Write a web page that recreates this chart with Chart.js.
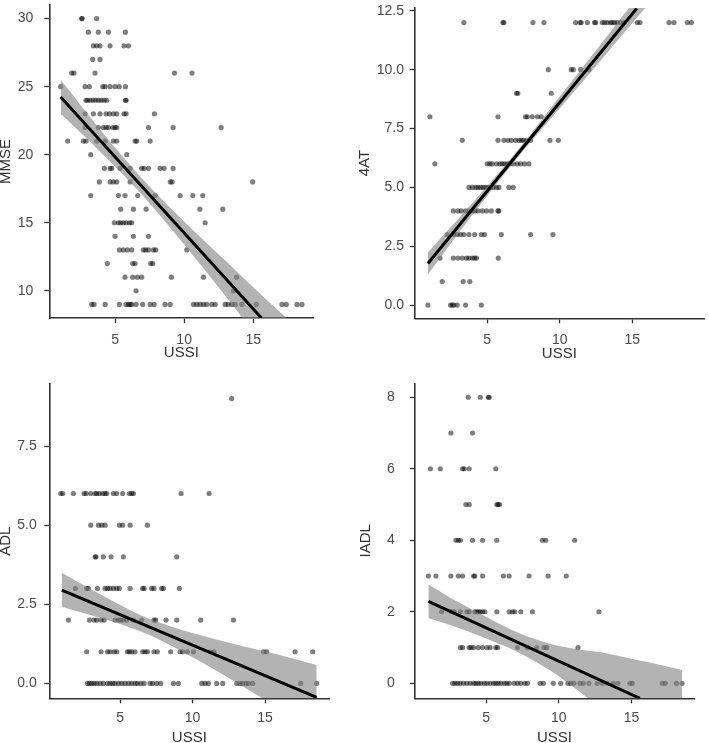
<!DOCTYPE html>
<html>
<head>
<meta charset="utf-8">
<script src="https://cdn.jsdelivr.net/npm/chart.js@4"></script>
<style>
  html, body { margin: 0; padding: 0; background: #fff; width: 709px; height: 743px; overflow: hidden; }
  canvas { position: absolute; left: 0; top: 0; }
</style>
</head>
<body>
<canvas id="mmse" width="709" height="750"></canvas>
<canvas id="fourat" width="709" height="750"></canvas>
<canvas id="adl" width="709" height="750"></canvas>
<canvas id="iadl" width="709" height="750"></canvas>
<script>
// ---- data ----
// every panel: score levels (y) and the USSI values (x) of the dots sitting on that level
var ussiTicks = [5, 10, 15];

var mmseLevels = [30, 29, 28, 27, 26, 25, 24, 23, 22, 21, 20, 19, 18, 17, 16, 15, 14, 13, 12, 11, 10, 9];
var mmseUssi = [
  [2.58, 2.62, 3.67],
  [3.07, 3.79, 4.52, 5.75],
  [3.43, 3.67, 3.91, 4.64, 5.65, 5.97],
  [3.38, 3.91],
  [1.86, 2.03, 3.55, 9.3, 10.57],
  [1.06, 2.83, 3.14, 4.11, 4.28, 4.64, 5.0, 5.31, 5.75],
  [2.9, 3.0, 3.2, 3.4, 3.6, 3.8, 4.0, 4.2, 4.4, 5.75, 5.8],
  [2.83, 3.43, 3.91, 4.35, 4.6, 4.88, 5.12, 5.65, 5.8, 7.85],
  [2.83, 3.79, 4.15, 4.35, 4.52, 4.83, 5.0, 5.12, 7.42, 9.2, 12.68],
  [1.57, 2.71, 2.9, 3.67, 4.28, 4.88, 5.12, 6.45, 6.57, 7.54],
  [3.24, 5.85],
  [4.23, 4.64, 4.76, 5.36, 6.09, 6.93, 7.1, 7.42, 8.26, 8.55, 9.2],
  [3.86, 4.64, 4.88, 5.12, 6.09, 9.0, 9.13, 14.96],
  [3.24, 5.24, 5.72, 6.64, 7.9, 9.71, 10.63, 11.35],
  [5.41, 6.33, 7.25, 11.14, 12.8],
  [4.95, 5.24, 5.41, 5.6, 5.8, 6.04, 6.21, 11.52],
  [5.0, 6.33, 7.42],
  [5.31, 5.6, 5.89, 6.21, 7.05, 7.22, 7.42, 7.78, 7.95, 10.19],
  [4.44, 6.28, 6.45, 7.58, 7.73],
  [5.72, 6.28, 6.62, 6.93, 9.08, 11.4, 13.8],
  [6.52, 13.57],
  [3.31, 3.48, 4.28, 5.31, 5.8, 5.97, 6.09, 6.21, 6.52, 7.0, 7.54, 7.83, 8.62, 8.99,
   10.68, 10.92, 11.16, 11.4, 11.64, 12.0, 12.25, 12.97, 13.19, 13.46, 13.7, 14.18,
   15.22, 17.08, 17.39, 18.17, 18.53]
];
var mmseFitX = [1.06, 15.6];
var mmseFitY = [24.24, 8.0];
var mmseBandX = [1.06, 4, 7, 10, 13, 16, 18.53];
var mmseBandHi = [25.5, 21.75, 18.2, 15.1, 12.2, 9.3, 7.0];
var mmseBandLo = [23.0, 20.15, 17.0, 13.4, 9.6, 5.7, 2.4];
var mmseTicks = [10, 15, 20, 25, 30];

var fouratLevels = [12, 10, 9, 8, 7, 6, 5, 4, 3, 2, 1, 0];
var fouratUssi = [
  [3.39, 6.08, 6.15, 8.15, 8.91, 11.09, 11.39, 11.48, 11.9, 12.4, 12.47, 12.93, 13.09,
   13.28, 13.5, 13.62, 13.78, 13.97, 14.2, 14.43, 15.34, 15.53, 17.53, 17.87, 18.79, 19.07],
  [9.21, 10.79, 10.93, 11.44, 12.01],
  [7.02, 7.11, 9.41],
  [1.05, 5.74, 7.64, 7.76, 8.1, 8.45, 8.72],
  [3.28, 5.74, 6.15, 6.43, 6.66, 6.95, 7.18, 7.34, 7.48, 7.69, 7.99, 9.32, 9.9],
  [1.39, 5.0, 5.18, 5.34, 5.64, 5.87, 6.03, 6.2, 6.38, 6.56, 6.79, 7.07, 7.3, 7.57, 7.87],
  [3.74, 3.97, 4.2, 4.36, 4.54, 4.72, 4.89, 5.05, 5.23, 5.41, 5.64, 5.8, 6.49, 6.79],
  [2.66, 2.98, 3.21, 3.51, 3.74, 3.97, 4.15, 4.36, 4.66, 4.95, 5.28, 5.74, 5.8],
  [2.24, 2.7, 2.93, 3.16, 3.39, 3.74, 4.13, 4.59, 4.82, 5.97, 7.99, 9.53],
  [1.74, 2.66, 2.98, 3.28, 3.57, 3.74, 3.97, 4.13, 4.26, 5.76],
  [1.9, 3.34, 3.8],
  [0.91, 2.47, 2.59, 2.7, 2.93, 3.51, 4.59]
];
var fouratFitX = [0.91, 15.3];
var fouratFitY = [1.77, 12.6];
var fouratBandX = [0.91, 4, 7, 10, 13, 16, 19.07];
var fouratBandHi = [2.24, 4.35, 6.5, 8.86, 11.22, 13.6, 16.0];
var fouratBandLo = [1.3, 3.85, 6.2, 8.36, 10.52, 12.7, 14.8];
var fouratTicks = [0, 2.5, 5, 7.5, 10, 12.5];

var adlLevels = [9, 6, 5, 4, 3, 2, 1, 0];
var adlUssi = [
  [12.7],
  [0.91, 1.05, 1.78, 2.52, 2.66, 2.98, 3.28, 3.39, 3.57, 3.8, 3.97, 4.08, 4.54, 4.77, 5.18,
   5.64, 5.8, 5.92, 9.21, 11.14],
  [2.98, 3.51, 3.74, 3.97, 4.95, 5.18, 5.69, 6.89],
  [3.28, 3.34, 3.85, 4.38, 5.23, 8.91],
  [1.92, 2.7, 2.82, 3.44, 3.97, 4.13, 4.31, 4.54, 4.77, 4.95, 5.69, 6.56, 6.66, 7.18, 7.34,
   7.87, 7.99, 9.09],
  [1.44, 2.89, 3.21, 3.39, 3.69, 3.9, 4.66, 4.89, 5.05, 5.23, 5.46, 5.92, 6.49, 7.34, 7.46,
   8.17, 8.91, 10.56, 12.82],
  [2.7, 3.69, 4.13, 4.31, 4.59, 4.77, 5.51, 5.64, 5.8, 6.03, 6.56, 6.72, 6.89, 7.34, 7.57,
   8.49, 9.14, 9.32, 9.64, 10.06, 11.21, 11.48, 14.89, 15.11, 17.07, 18.29],
  [2.75, 2.89, 3.05, 3.21, 3.39, 3.62, 3.85, 4.13, 4.31, 4.49, 4.66, 4.89, 5.11, 5.34, 5.57,
   5.8, 6.03, 6.2, 6.43, 6.66, 7.07, 7.25, 7.53, 7.8, 8.68, 9.02, 10.63, 10.86, 11.09, 11.67,
   12.08, 13.05, 13.28, 13.46, 13.69, 13.85, 14.15, 17.46, 18.56]
];
var adlFitX = [0.98, 18.56];
var adlFitY = [2.95, -0.44];
var adlBandX = [0.98, 2.5, 4, 5.5, 7, 8.5, 10, 11.5, 13, 14.5, 16, 18.56];
var adlBandHi = [3.5, 3.1, 2.72, 2.36, 2.04, 1.8, 1.59, 1.4, 1.23, 1.06, 0.9, 0.58];
var adlBandLo = [2.42, 2.22, 2.02, 1.8, 1.54, 1.2, 0.83, 0.44, 0.03, -0.38, -0.8, -1.46];
var adlTicks = [0, 2.5, 5, 7.5];

var iadlLevels = [8, 7, 6, 5, 4, 3, 2, 1, 0];
var iadlUssi = [
  [3.76, 4.59, 5.14, 5.21],
  [2.57, 4.06],
  [1.16, 1.84, 3.38, 3.49, 3.83, 5.66],
  [3.6, 3.83, 5.73, 5.82, 5.92],
  [2.92, 3.08, 3.22, 4.06, 4.75, 5.73, 8.87, 9.1, 11.09],
  [1.02, 1.54, 2.57, 3.08, 3.38, 4.13, 4.22, 4.75, 6.19, 6.58, 7.95, 9.26, 10.51],
  [1.93, 2.62, 2.8, 3.22, 3.67, 3.83, 4.22, 4.36, 4.45, 4.59, 4.75, 4.91, 5.73, 6.58, 6.81,
   6.97, 7.38, 8.18, 12.76],
  [3.22, 3.38, 3.83, 3.95, 4.13, 4.45, 4.75, 5.05, 5.27, 5.66, 5.78, 7.15, 7.84, 8.48, 8.98,
   9.16, 11.32],
  [2.69, 2.85, 3.03, 3.22, 3.44, 3.67, 3.9, 4.13, 4.29, 4.45, 4.63, 4.86, 5.05, 5.27, 5.5,
   5.66, 5.82, 6.01, 6.24, 6.42, 6.58, 6.92, 7.15, 7.38, 7.65, 7.84, 8.71, 8.94, 9.62, 10.13,
   10.63, 10.81, 11.04, 11.45, 11.68, 12.07, 12.64, 12.99, 13.33, 13.74, 14.06, 14.89, 15.05,
   17.11, 17.33, 18.09, 18.48]
];
var iadlFitX = [1.02, 15.57];
var iadlFitY = [2.29, -0.42];
var iadlBandX = [1.02, 2.5, 4, 5.5, 7, 8.5, 10, 11.5, 13, 14.5, 16, 18.48];
var iadlBandHi = [2.76, 2.4, 2.07, 1.75, 1.45, 1.22, 1.04, 0.94, 0.86, 0.73, 0.6, 0.37];
var iadlBandLo = [1.82, 1.63, 1.41, 1.17, 0.91, 0.58, 0.2, -0.26, -0.74, -1.17, -1.6, -2.29];
var iadlTicks = [0, 2, 4, 6, 8];

// ---- helpers ----
var fontFamily = "'Liberation Sans', Arial, Helvetica, sans-serif";
var axisColor = '#333333';
var tickColor = '#4d4d4d';

function toPoints(levels, xs) {
  var pts = [];
  levels.forEach(function (lvl, i) {
    xs[i].forEach(function (x) { pts.push({ x: x, y: lvl }); });
  });
  return pts;
}
function zip(xs, ys) {
  return xs.map(function (x, i) { return { x: x, y: ys[i] }; });
}
function noPad(s) {
  s.paddingLeft = 0; s.paddingRight = 0; s.paddingTop = 0; s.paddingBottom = 0;
}

function panel(id, p) {
  new Chart(document.getElementById(id), {
    type: 'scatter',
    data: {
      datasets: [
        {
          type: 'line', data: zip(p.fitX, p.fitY), order: 0,
          borderColor: '#000', borderWidth: 3, pointRadius: 0, fill: false
        },
        {
          type: 'line', data: zip(p.bandX, p.bandHi), order: 1,
          borderWidth: 0, pointRadius: 0, fill: '+1',
          backgroundColor: 'rgba(128,128,128,0.6)', cubicInterpolationMode: 'monotone'
        },
        {
          type: 'line', data: zip(p.bandX, p.bandLo), order: 1,
          borderWidth: 0, pointRadius: 0, fill: false, cubicInterpolationMode: 'monotone'
        },
        {
          data: p.points, order: 2,
          backgroundColor: 'rgba(0,0,0,0.5)', borderWidth: 0, pointRadius: 2.6
        }
      ]
    },
    options: {
      responsive: false,
      animation: false,
      events: [],
      layout: { padding: { left: p.padL, right: p.padR, top: p.padT, bottom: p.padB } },
      plugins: { legend: { display: false }, tooltip: { enabled: false } },
      scales: {
        x: {
          type: 'linear', min: p.xMin, max: p.xMax,
          afterBuildTicks: function (s) { s.ticks = ussiTicks.map(function (v) { return { value: v }; }); },
          afterFit: function (s) { s.height = p.xH; noPad(s); },
          ticks: { font: { family: fontFamily, size: 14 }, color: tickColor, padding: p.xTickPad,
                   callback: function (v) { return String(v); } },
          grid: { drawOnChartArea: false, drawTicks: true, tickLength: 5, tickColor: axisColor, tickWidth: 1.3 },
          border: { display: true, color: axisColor, width: 1.6 },
          title: { display: true, text: 'USSI', color: axisColor,
                   font: { family: fontFamily, size: 15, lineHeight: 1 }, padding: { top: 0, bottom: 0 } }
        },
        y: {
          type: 'linear', min: p.yMin, max: p.yMax,
          afterBuildTicks: function (s) { s.ticks = p.yTicks.map(function (v) { return { value: v }; }); },
          afterFit: function (s) { s.width = p.yW; noPad(s); },
          ticks: { font: { family: fontFamily, size: 14 }, color: tickColor, padding: p.yTickPad,
                   callback: function (v) { return v.toFixed(p.dec); } },
          grid: { drawOnChartArea: false, drawTicks: true, tickLength: 5, tickColor: axisColor, tickWidth: 1.3 },
          border: { display: true, color: axisColor, width: 1.6 },
          title: { display: true, text: p.title, color: axisColor,
                   font: { family: fontFamily, size: 15, lineHeight: 1 }, padding: { top: -1.5, bottom: 0 } }
        }
      }
    }
  });
}

panel('mmse', {
  title: 'MMSE', points: toPoints(mmseLevels, mmseUssi),
  fitX: mmseFitX, fitY: mmseFitY, bandX: mmseBandX, bandHi: mmseBandHi, bandLo: mmseBandLo,
  xMin: 0.24, xMax: 19.35, yMin: 8.0, yMax: 31.0, yTicks: mmseTicks, dec: 0,
  padL: 0, yW: 49.3, padR: 395.7, padT: 5, xH: 42, padB: 390, yTickPad: 11, xTickPad: 8.6
});
panel('fourat', {
  title: '4AT', points: toPoints(fouratLevels, fouratUssi),
  fitX: fouratFitX, fitY: fouratFitY, bandX: fouratBandX, bandHi: fouratBandHi, bandLo: fouratBandLo,
  xMin: 0.0, xMax: 19.94, yMin: -0.56, yMax: 12.62, yTicks: fouratTicks, dec: 1,
  padL: 359, yW: 55.7, padR: 5, padT: 8, xH: 43.2, padB: 388.5, yTickPad: 5.7, xTickPad: 8.3
});
panel('adl', {
  title: 'ADL', points: toPoints(adlLevels, adlUssi),
  fitX: adlFitX, fitY: adlFitY, bandX: adlBandX, bandHi: adlBandHi, bandLo: adlBandLo,
  xMin: 0.12, xMax: 19.43, yMin: -0.47, yMax: 9.46, yTicks: adlTicks, dec: 1,
  padL: 0, yW: 49.3, padR: 379.7, padT: 384, xH: 47.2, padB: 4.5, yTickPad: 7.6, xTickPad: 6.3
});
panel('iadl', {
  title: 'IADL', points: toPoints(iadlLevels, iadlUssi),
  fitX: iadlFitX, fitY: iadlFitY, bandX: iadlBandX, bandHi: iadlBandHi, bandLo: iadlBandLo,
  xMin: 0.1, xMax: 19.3, yMin: -0.42, yMax: 8.39, yTicks: iadlTicks, dec: 0,
  padL: 359.5, yW: 55.5, padR: 15, padT: 383.3, xH: 47.2, padB: 4.5, yTickPad: 15.3, xTickPad: 6.3
});
</script>
</body>
</html>
